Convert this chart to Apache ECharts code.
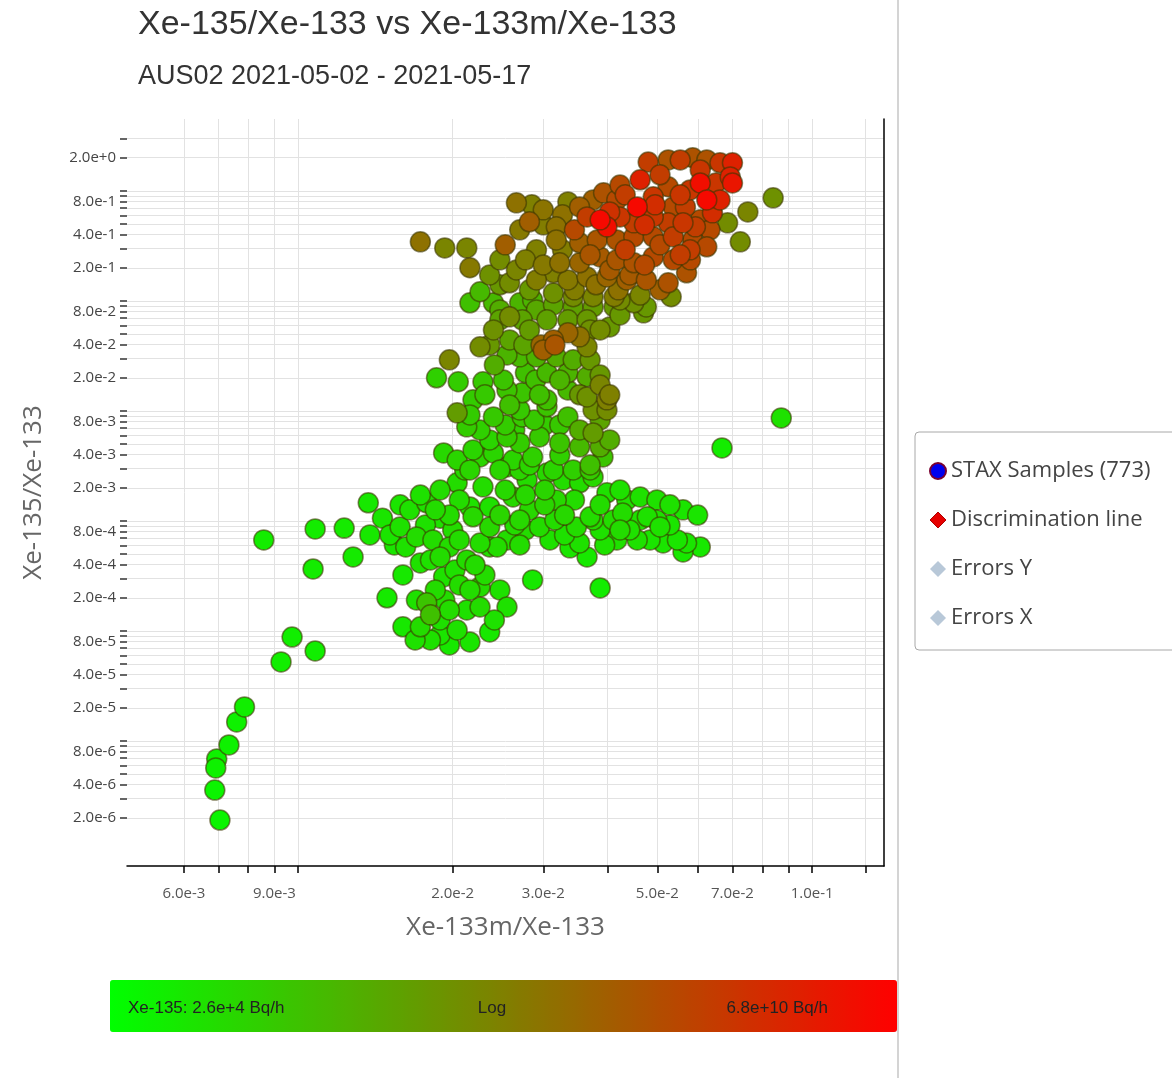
<!DOCTYPE html>
<html>
<head>
<meta charset="utf-8">
<script src="https://cdn.jsdelivr.net/npm/echarts@6/dist/echarts.min.js"></script>
<style>
  html, body { margin: 0; padding: 0; background: #fff; }
  #chart { width: 1172px; height: 1078px; }
</style>
</head>
<body>
<div id="chart"></div>
<script>
// axis ticks / labels
const xTickMarks = [6e-3, 7e-3, 8e-3, 9e-3, 1e-2, 2e-2, 3e-2, 4e-2, 5e-2, 6e-2, 7e-2, 8e-2, 9e-2, 1e-1, 1.27e-1];
const xTickLabels = [6e-3, 9e-3, 2e-2, 3e-2, 5e-2, 7e-2, 1e-1];
const yMantissas = [1, 2, 3, 4, 5, 6, 7, 8, 9];
const yDecades = [-6, -5, -4, -3, -2, -1, 0];
const yTickLabels = [2, 8e-1, 4e-1, 2e-1, 8e-2, 4e-2, 2e-2, 8e-3, 4e-3, 2e-3, 8e-4, 4e-4, 2e-4, 8e-5, 4e-5, 2e-5, 8e-6, 4e-6, 2e-6];
const xRange = [4.65e-3, 0.138];
const yRange = [7.3e-7, 4.5];
const colorRange = [2.6e4, 6.8e10]; // Xe-135 Bq/h

// samples: [Xe-133m/Xe-133, Xe-135/Xe-133, Xe-135 Bq/h]
const tailPoints = [
  [7.05e-3, 1.91e-6, 5e4], [6.89e-3, 3.58e-6, 5e4], [6.95e-3, 6.86e-6, 6e4], [6.92e-3, 5.69e-6, 6e4],
  [7.34e-3, 9.2e-6, 6e4], [7.6e-3, 1.49e-5, 6e4], [7.87e-3, 2.04e-5, 7e4], [9.27e-3, 5.23e-5, 7e4],
  [9.74e-3, 8.8e-5, 7e4], [1.08e-2, 6.58e-5, 7e4]
];

const leftPoints = [
  [8.58e-3, 6.72e-4, 8e4], [1.07e-2, 3.66e-4, 8e4], [1.08e-2, 8.46e-4, 8e4], [1.23e-2, 8.6e-4, 9e4],
  [1.28e-2, 4.71e-4, 9e4], [1.38e-2, 7.46e-4, 1e5], [1.37e-2, 1.46e-3, 1e5], [1.46e-2, 1.06e-3, 1.2e5],
  [1.49e-2, 2.0e-4, 9e4], [1.58e-2, 8.82e-4, 1.5e5], [1.65e-2, 1.26e-3, 1.5e5], [1.78e-2, 1.46e-3, 1.5e5],
  [1.89e-2, 1.06e-3, 1.5e5], [2.0e-2, 8.28e-4, 2e5], [2.16e-2, 1.34e-3, 1.5e5], [2.36e-2, 1.34e-3, 1.5e5],
  [1.7e-2, 7.16e-4, 2e5], [1.62e-2, 5.8e-4, 1.5e5], [1.83e-2, 6.72e-4, 2e5], [1.97e-2, 5.8e-4, 2e5],
  [1.73e-2, 4.15e-4, 1.5e5], [1.89e-2, 4.71e-4, 2e5], [2.13e-2, 4.42e-4, 2e5], [2.36e-2, 5.8e-4, 2e5],
  [1.6e-2, 3.23e-4, 1e5], [1.92e-2, 3.1e-4, 1.5e5], [1.7e-2, 1.91e-4, 1.5e5], [1.78e-2, 1.8e-4, 8e5],
  [1.6e-2, 1.09e-4, 1e5], [1.73e-2, 1.09e-4, 2e5], [1.89e-2, 1.26e-4, 1.5e5], [2.04e-2, 1.02e-4, 1.5e5],
  [1.81e-2, 8.28e-5, 1.5e5], [2.16e-2, 7.94e-5, 1.2e5], [2.36e-2, 9.8e-5, 1e5], [2.26e-2, 2.51e-4, 2e5],
  [2.47e-2, 2.36e-4, 1.5e5], [2.55e-2, 1.65e-4, 1.5e5], [2.13e-2, 1.55e-4, 1.5e5], [2.26e-2, 1.65e-4, 2e5],
  [2.86e-2, 2.91e-4, 1e5], [3.87e-2, 2.46e-4, 8e4], [1.81e-2, 1.4e-4, 1e6], [1.93e-2, 1.91e-4, 2e5],
  [2.06e-2, 2.62e-4, 2e5], [2.41e-2, 1.26e-4, 1.5e5], [1.69e-2, 8.28e-5, 1.5e5], [1.97e-2, 7.46e-5, 1e5],
  [2.31e-2, 3.23e-4, 2e5], [2.16e-2, 2.36e-4, 2e5],
  [1.54e-2, 6.05e-4, 1.2e5], [1.81e-2, 4.42e-4, 1.5e5], [2.02e-2, 3.58e-4, 1.5e5], [2.21e-2, 3.98e-4, 2e5],
  [1.85e-2, 2.36e-4, 2e5], [1.97e-2, 1.55e-4, 2e5], [1.89e-2, 9.2e-5, 1.2e5]
];

const lowerBand = [
  [2.04e-2, 2.22e-3, 2e5], [2.29e-2, 2.04e-3, 2e5], [2.55e-2, 3.1e-3, 2.5e5], [2.79e-2, 2.36e-3, 2e5],
  [3.05e-2, 2.73e-3, 2.5e5], [3.28e-2, 2.36e-3, 2e5], [3.53e-2, 2.22e-3, 2e5], [3.75e-2, 2.51e-3, 2.5e5],
  [3.99e-2, 1.8e-3, 1.5e5], [4.36e-2, 1.55e-3, 1.5e5], [4.63e-2, 1.65e-3, 1.5e5], [4.99e-2, 1.55e-3, 1.5e5],
  [5.61e-2, 1.26e-3, 1.2e5], [5.99e-2, 1.13e-3, 1.2e5], [5.7e-2, 6.3e-4, 1.2e5], [6.06e-2, 5.8e-4, 1e5],
  [5.61e-2, 5.23e-4, 1e5], [5.13e-2, 6.3e-4, 1.2e5], [4.57e-2, 6.72e-4, 1.5e5], [4.17e-2, 6.72e-4, 1.5e5],
  [3.75e-2, 1.02e-3, 2e5], [4.1e-2, 1.02e-3, 2e5], [4.63e-2, 1.02e-3, 1.5e5], [4.99e-2, 1.02e-3, 1.5e5],
  [3.65e-2, 4.71e-4, 1e5], [3.38e-2, 5.69e-4, 1.2e5], [3.09e-2, 6.72e-4, 1.5e5], [2.77e-2, 8.28e-4, 2e5],
  [2.55e-2, 6.72e-4, 2e5], [2.62e-2, 1.65e-3, 2.5e5], [2.82e-2, 1.26e-3, 2.5e5], [3.18e-2, 1.55e-3, 2.5e5],
  [2.95e-2, 8.82e-4, 2e5], [3.48e-2, 8.82e-4, 2e5], [3.7e-2, 1.09e-3, 2e5], [4.28e-2, 1.18e-3, 2e5],
  [4.78e-2, 1.09e-3, 1.5e5], [5.06e-2, 8.82e-4, 1.5e5], [5.47e-2, 6.72e-4, 1.2e5], [3.53e-2, 6.3e-4, 1.5e5],
  [2.44e-2, 5.8e-4, 2e5], [2.26e-2, 6.3e-4, 2e5], [2.06e-2, 6.72e-4, 2e5], [2.36e-2, 8.82e-4, 2.5e5],
  [2.19e-2, 1.09e-3, 2.5e5], [2.47e-2, 1.13e-3, 3e5], [2.7e-2, 1.02e-3, 2.5e5], [3.02e-2, 1.4e-3, 3e5],
  [3.3e-2, 1.13e-3, 2.5e5], [3.87e-2, 1.4e-3, 2e5], [4.23e-2, 8.28e-4, 2e5], [3.95e-2, 6.05e-4, 1.5e5],
  [1.89e-2, 1.91e-3, 2e5], [2.11e-2, 2.91e-3, 2.5e5], [2.7e-2, 2.91e-3, 3e5], [3.02e-2, 1.91e-3, 3e5],
  [2.7e-2, 6.05e-4, 2e5], [2.06e-2, 1.55e-3, 2e5], [1.77e-2, 9.2e-4, 1.5e5], [1.97e-2, 1.13e-3, 2e5],
  [1.51e-2, 7.46e-4, 1.2e5], [5.29e-2, 1.4e-3, 1.5e5], [6.68e-2, 4.61e-3, 8e4], [8.71e-2, 8.64e-3, 1.5e5],
  [1.73e-2, 1.72e-3, 1.5e5], [1.58e-2, 1.4e-3, 1.2e5], [1.85e-2, 1.26e-3, 2e5], [2.64e-2, 9.2e-4, 2e5],
  [3.16e-2, 1.02e-3, 2e5], [3.3e-2, 7.46e-4, 1.5e5], [3.87e-2, 8.28e-4, 1.5e5], [4.42e-2, 8.28e-4, 1.5e5],
  [4.84e-2, 6.72e-4, 1.2e5], [4.23e-2, 1.91e-3, 1.5e5], [5.29e-2, 9.2e-4, 1.2e5], [2.53e-2, 1.91e-3, 2.5e5],
  [2.77e-2, 1.72e-3, 2.5e5], [3.45e-2, 1.55e-3, 2e5]
];

const middleBand = [
  [1.92e-2, 4.15e-3, 2.5e5], [2.04e-2, 3.58e-3, 3e5], [2.26e-2, 3.82e-3, 3e5], [2.62e-2, 3.58e-3, 3e5],
  [2.86e-2, 3.82e-3, 4e5], [3.14e-2, 2.91e-3, 3e5], [3.43e-2, 2.91e-3, 4e5], [3.7e-2, 2.91e-3, 5e5],
  [3.92e-2, 3.82e-3, 8e5], [3.87e-2, 4.71e-3, 3e6], [3.53e-2, 4.71e-3, 1.5e6], [3.23e-2, 5.12e-3, 8e5],
  [2.95e-2, 5.8e-3, 6e5], [2.7e-2, 5.12e-3, 5e5], [2.55e-2, 5.8e-3, 5e5], [2.4e-2, 4.15e-3, 3e5],
  [2.19e-2, 4.42e-3, 3e5], [2.13e-2, 7.16e-3, 5e5], [3.53e-2, 6.72e-3, 3e6], [3.75e-2, 6.3e-3, 8e6],
  [2.19e-2, 1.26e-2, 5e5], [2.04e-2, 9.6e-3, 8e6], [2.4e-2, 8.82e-3, 6e5], [2.73e-2, 8.82e-3, 6e5],
  [3.05e-2, 1.09e-2, 8e5], [3.35e-2, 8.82e-3, 1e6], [3.75e-2, 1.02e-2, 1.5e7], [3.99e-2, 1.02e-2, 2e7],
  [3.65e-2, 1.34e-2, 1.5e7], [3.99e-2, 1.26e-2, 4e7], [3.35e-2, 1.55e-2, 1.5e6], [3.05e-2, 1.26e-2, 1e6],
  [2.73e-2, 1.46e-2, 8e5], [2.55e-2, 1.55e-2, 8e5], [2.51e-2, 1.91e-2, 8e5], [2.77e-2, 2.22e-2, 1e6],
  [3.05e-2, 2.22e-2, 1.5e6], [3.35e-2, 2.22e-2, 2e6], [3.65e-2, 2.04e-2, 3e6], [2.7e-2, 3.1e-2, 1.5e6],
  [2.91e-2, 3.1e-2, 2e6], [3.18e-2, 3.1e-2, 3e6], [3.43e-2, 2.91e-2, 3e6], [1.86e-2, 2.0e-2, 4e5],
  [2.05e-2, 1.84e-2, 5e5], [2.29e-2, 1.84e-2, 6e5], [1.97e-2, 2.91e-2, 3e7], [2.26e-2, 3.82e-2, 2e7],
  [2.4e-2, 5.45e-2, 1.5e7], [2.58e-2, 7.16e-2, 2e7], [3.14e-2, 4.42e-2, 3e8], [3.35e-2, 5.12e-2, 2e8],
  [3.53e-2, 4.71e-2, 1e8], [3.65e-2, 3.82e-2, 3e7], [2.97e-2, 3.98e-2, 2e8], [2.73e-2, 6.72e-2, 5e6],
  [3.05e-2, 6.72e-2, 6e6], [3.35e-2, 6.72e-2, 8e6], [3.65e-2, 6.72e-2, 1e7], [4.04e-2, 5.8e-2, 1e7],
  [4.7e-2, 7.78e-2, 1e7], [4.5e-2, 9.6e-2, 1.5e7], [4.12e-2, 8.82e-2, 1e7], [3.75e-2, 8.82e-2, 8e6],
  [3.43e-2, 8.82e-2, 6e6], [3.14e-2, 9.2e-2, 5e6], [2.91e-2, 8.28e-2, 4e6], [2.7e-2, 9.6e-2, 2e6],
  [2.4e-2, 9.6e-2, 1.5e6], [2.16e-2, 9.6e-2, 1e6], [2.26e-2, 0.121, 1.5e6], [2.86e-2, 0.102, 2e6],
  [3.87e-2, 8.28e-3, 5e6], [3.23e-2, 7.46e-3, 6e5], [2.53e-2, 7.46e-3, 5e5], [2.26e-2, 6.72e-3, 4e5],
  [2.88e-2, 8.28e-3, 6e5], [2.47e-2, 6.72e-2, 5e6], [2.36e-2, 3.98e-2, 1e7], [2.58e-2, 4.42e-2, 5e6],
  [3.87e-2, 5.45e-2, 2e7], [4.23e-2, 7.46e-2, 1e7], [2.41e-2, 2.62e-2, 3e6], [2.58e-2, 1.13e-2, 1e6],
  [2.9e-2, 1.91e-2, 1e6], [3.23e-2, 1.91e-2, 2e6], [3.53e-2, 1.4e-2, 1e7], [3.7e-2, 3.23e-3, 1e6],
  [4.04e-2, 5.45e-3, 3e6], [2.16e-2, 2.91e-3, 3e5], [2.47e-2, 2.91e-3, 3e5], [2.82e-2, 3.23e-3, 3e5],
  [2.55e-2, 3.23e-2, 2e6], [2.82e-2, 5.45e-2, 8e6], [3.7e-2, 2.91e-2, 1e7], [3.87e-2, 2.12e-2, 1e7],
  [2.31e-2, 1.4e-2, 6e5], [2.36e-2, 5.45e-3, 3e5], [3.23e-2, 3.98e-3, 4e5], [3.02e-2, 7.46e-3, 5e5],
  [2.64e-2, 6.72e-3, 4e5], [3.87e-2, 1.72e-2, 3e7], [4.04e-2, 1.4e-2, 4e7], [2.7e-2, 1.02e-2, 6e5],
  [2.16e-2, 9.2e-3, 5e5], [2.95e-2, 1.4e-2, 1e6], [3.16e-2, 3.98e-2, 5e8], [3.0e-2, 3.58e-2, 3e8],
  [2.75e-2, 3.98e-2, 5e6], [2.47e-2, 8.28e-2, 3e6], [3.7e-2, 5.45e-2, 1.5e7], [4.23e-2, 0.102, 2e7]
];

const upperCluster = [
  [4.8e-2, 1.83, 2e9], [5.25e-2, 1.91, 6e8], [5.54e-2, 1.91, 2e9], [5.86e-2, 2.0, 6e8],
  [6.24e-2, 1.91, 6e8], [6.62e-2, 1.8, 3e9], [7.0e-2, 1.8, 1e10], [6.93e-2, 1.34, 1e10],
  [4.63e-2, 1.26, 1e10], [5.25e-2, 1.09, 1e9], [6.06e-2, 1.18, 3e10], [6.5e-2, 1.18, 3e9],
  [7.0e-2, 1.18, 2e10], [5.79e-2, 1.02, 3e9], [6.24e-2, 0.828, 4e10], [6.62e-2, 0.828, 1e10],
  [4.57e-2, 0.715, 4e10], [4.91e-2, 0.882, 3e9], [5.37e-2, 0.715, 1e9], [5.67e-2, 0.715, 2e9],
  [6.4e-2, 0.631, 5e9], [3.93e-2, 0.959, 6e8], [3.75e-2, 0.828, 3e8], [4.17e-2, 0.828, 1e9],
  [3.87e-2, 0.545, 4e10], [3.99e-2, 0.471, 3e10], [3.65e-2, 0.58, 2e9], [4.23e-2, 0.58, 3e9],
  [4.5e-2, 0.512, 2e9], [4.91e-2, 0.58, 3e9], [5.25e-2, 0.512, 2e9], [5.61e-2, 0.512, 3e9],
  [6.06e-2, 0.545, 1e9], [6.33e-2, 0.442, 1e9], [8.4e-2, 0.864, 1.5e7], [7.5e-2, 0.644, 3e7],
  [6.85e-2, 0.512, 2e7], [7.25e-2, 0.344, 2e7], [2.66e-2, 0.778, 1e8], [2.85e-2, 0.746, 4e7],
  [2.82e-2, 0.523, 3e8], [3.35e-2, 0.794, 4e7], [3.27e-2, 0.605, 1e8], [3.18e-2, 0.471, 1e8],
  [3.53e-2, 0.715, 3e8], [1.73e-2, 0.344, 1e8], [1.93e-2, 0.303, 3e7], [2.13e-2, 0.303, 3e7],
  [2.16e-2, 0.2, 6e7], [2.53e-2, 0.323, 3e8], [2.91e-2, 0.291, 4e7], [2.77e-2, 0.236, 4e7],
  [3.18e-2, 0.358, 1e8], [3.27e-2, 0.291, 5e7], [3.53e-2, 0.337, 3e8], [3.82e-2, 0.358, 5e8],
  [4.17e-2, 0.358, 6e8], [4.5e-2, 0.382, 1e9], [4.91e-2, 0.382, 1e9], [5.37e-2, 0.382, 2e9],
  [5.86e-2, 0.358, 1e9], [6.24e-2, 0.31, 1e9], [3.23e-2, 0.222, 1e8], [3.53e-2, 0.222, 2e8],
  [3.87e-2, 0.251, 4e8], [4.17e-2, 0.236, 5e8], [4.5e-2, 0.222, 6e8], [4.91e-2, 0.251, 1e9],
  [5.37e-2, 0.236, 1e9], [5.79e-2, 0.291, 2e9], [2.66e-2, 0.191, 3e7], [2.58e-2, 0.146, 2e7],
  [2.91e-2, 0.155, 5e7], [3.14e-2, 0.18, 4e7], [3.35e-2, 0.155, 6e7], [3.65e-2, 0.165, 1e8],
  [3.99e-2, 0.165, 2e8], [4.36e-2, 0.155, 3e8], [4.76e-2, 0.155, 5e8], [5.25e-2, 0.146, 6e8],
  [5.7e-2, 0.18, 6e8], [3.14e-2, 0.118, 1.5e7], [3.43e-2, 0.109, 2e7], [3.75e-2, 0.109, 3e7],
  [4.12e-2, 0.109, 5e7], [4.76e-2, 8.82e-2, 1e7], [5.32e-2, 0.109, 2e7], [4.23e-2, 1.13, 1e9],
  [5.06e-2, 1.4, 2e9], [6.06e-2, 1.55, 3e9], [4.72e-2, 0.491, 5e9], [4.33e-2, 0.291, 2e9],
  [4.72e-2, 0.212, 1e9], [4.04e-2, 0.644, 4e9], [3.45e-2, 0.442, 1e9], [3.7e-2, 0.262, 5e8],
  [3.0e-2, 0.212, 6e7], [3.45e-2, 0.126, 5e7], [4.2e-2, 0.126, 1e8], [5.06e-2, 0.126, 3e8],
  [2.82e-2, 0.126, 1e7], [2.47e-2, 0.236, 2e7], [3.0e-2, 0.491, 5e7],
  [4.33e-2, 0.92, 2e9], [5.54e-2, 0.92, 3e9], [4.95e-2, 0.746, 5e9], [5.93e-2, 0.471, 2e9],
  [5.06e-2, 0.323, 1e9], [5.54e-2, 0.262, 2e9], [5.8e-2, 0.236, 1e9], [4.04e-2, 0.191, 4e8],
  [4.42e-2, 0.172, 4e8], [3.8e-2, 0.14, 1e8], [4.63e-2, 0.113, 3e7], [3.0e-2, 0.672, 8e7],
  [2.7e-2, 0.442, 6e7], [2.47e-2, 0.14, 1e7], [2.36e-2, 0.172, 1.5e7]
];

const yTickMarks = [];
yDecades.forEach(d => yMantissas.forEach(m => {
  const v = m * Math.pow(10, d);
  if (v >= 1.999e-6 && v <= 3.001) yTickMarks.push(v);
}));

// hot samples drawn last so they sit on top
const samples = [].concat(tailPoints, leftPoints, lowerBand, middleBand, upperCluster)
  .map(p => [p[0], p[1], Math.log10(p[2])])
  .sort((a, b) => a[2] - b[2]);

const fmt = v => Number(v).toExponential(1);
const axisFont = 'Open Sans';
const barFont = { fontFamily: 'Liberation Sans', fontSize: 17, fill: '#222', verticalAlign: 'middle' };

const chart = echarts.init(document.getElementById('chart'));
chart.setOption({
  backgroundColor: '#fff',
  animation: false,
  title: {
    text: 'Xe-135/Xe-133 vs Xe-133m/Xe-133',
    subtext: 'AUS02 2021-05-02 - 2021-05-17',
    left: 138, top: 8, padding: 0, itemGap: 21,
    textStyle: { fontFamily: 'Liberation Sans', fontSize: 34, fontWeight: 'normal', color: '#333' },
    subtextStyle: { fontFamily: 'Liberation Sans', fontSize: 27, color: '#333' }
  },
  grid: { left: 127, right: 288, top: 119, bottom: 212 },
  xAxis: {
    type: 'log', min: xRange[0], max: xRange[1],
    name: 'Xe-133m/Xe-133', nameLocation: 'middle', nameGap: 49,
    nameTextStyle: { fontFamily: axisFont, fontSize: 26, color: '#666' },
    axisLine: { show: true, onZero: false, lineStyle: { color: '#000', width: 1.5 } },
    axisTick: { show: true, length: 7, customValues: xTickMarks, lineStyle: { color: '#000', width: 1.5 } },
    axisLabel: { customValues: xTickLabels, formatter: fmt, margin: 20, fontFamily: axisFont, fontSize: 15, color: '#555' },
    splitLine: { show: true, lineStyle: { color: '#e2e2e2', width: 1 } },
    minorTick: { show: false }
  },
  yAxis: [{
    type: 'log', min: yRange[0], max: yRange[1],
    name: 'Xe-135/Xe-133', nameLocation: 'middle', nameGap: 80,
    nameTextStyle: { fontFamily: axisFont, fontSize: 26, color: '#666' },
    axisLine: { show: false },
    axisTick: { show: true, length: 7, customValues: yTickMarks, lineStyle: { color: '#333', width: 1.5 } },
    axisLabel: { customValues: yTickLabels, formatter: fmt, margin: 11, fontFamily: axisFont, fontSize: 15, color: '#444' },
    splitLine: { show: true, lineStyle: { color: '#e2e2e2', width: 1 } }
  }, {
    type: 'log', min: yRange[0], max: yRange[1], position: 'right',
    axisLine: { show: true, lineStyle: { color: '#000', width: 1.5 } },
    axisTick: { show: false }, axisLabel: { show: false }, splitLine: { show: false }
  }],
  visualMap: {
    type: 'continuous',
    seriesIndex: 0, dimension: 2,
    min: Math.log10(colorRange[0]), max: Math.log10(colorRange[1]),
    orient: 'horizontal', left: 95, top: 965,
    itemWidth: 52, itemHeight: 787,
    calculable: false, hoverLink: false, text: null,
    inRange: { color: ['#00ff00', '#ff0000'] }
  },
  legend: {
    orient: 'vertical', left: 915, top: 432,
    padding: [28, 30, 21, 14], itemGap: 27,
    itemWidth: 16, itemHeight: 16,
    borderColor: '#a8a8a8', borderWidth: 1, borderRadius: 4,
    selectedMode: false,
    textStyle: { fontFamily: axisFont, fontSize: 22, color: '#444' },
    data: [
      { name: 'STAX Samples (773)', icon: 'circle', itemStyle: { color: '#0000ee', borderColor: '#7a0030', borderWidth: 2 } },
      { name: 'Discrimination line', icon: 'diamond', itemStyle: { color: '#e60000', borderColor: '#b00000', borderWidth: 1 } },
      { name: 'Errors Y', icon: 'diamond', itemStyle: { color: '#b8c8d8', borderWidth: 0 } },
      { name: 'Errors X', icon: 'diamond', itemStyle: { color: '#b8c8d8', borderWidth: 0 } }
    ]
  },
  graphic: [
    { type: 'line', shape: { x1: 898, y1: 0, x2: 898, y2: 1078 }, style: { stroke: '#d4d4d4', lineWidth: 2 }, z: 100 },
    { type: 'text', x: 128, y: 1008, z: 100, style: Object.assign({ text: 'Xe-135: 2.6e+4 Bq/h' }, barFont) },
    { type: 'text', x: 492, y: 1008, z: 100, style: Object.assign({ text: 'Log', align: 'center' }, barFont) },
    { type: 'text', x: 828, y: 1008, z: 100, style: Object.assign({ text: '6.8e+10 Bq/h', align: 'right' }, barFont) }
  ],
  series: [{
    name: 'STAX Samples (773)',
    type: 'scatter',
    yAxisIndex: 0,
    symbol: 'circle',
    symbolSize: 20,
    itemStyle: { color: '#0000ee', borderColor: 'rgba(60,55,0,0.6)', borderWidth: 1.5, opacity: 1 },
    data: samples,
    silent: true
  }, {
    name: 'Discrimination line', type: 'line', data: []
  }, {
    name: 'Errors Y', type: 'line', data: []
  }, {
    name: 'Errors X', type: 'line', data: []
  }]
});
</script>
</body>
</html>
